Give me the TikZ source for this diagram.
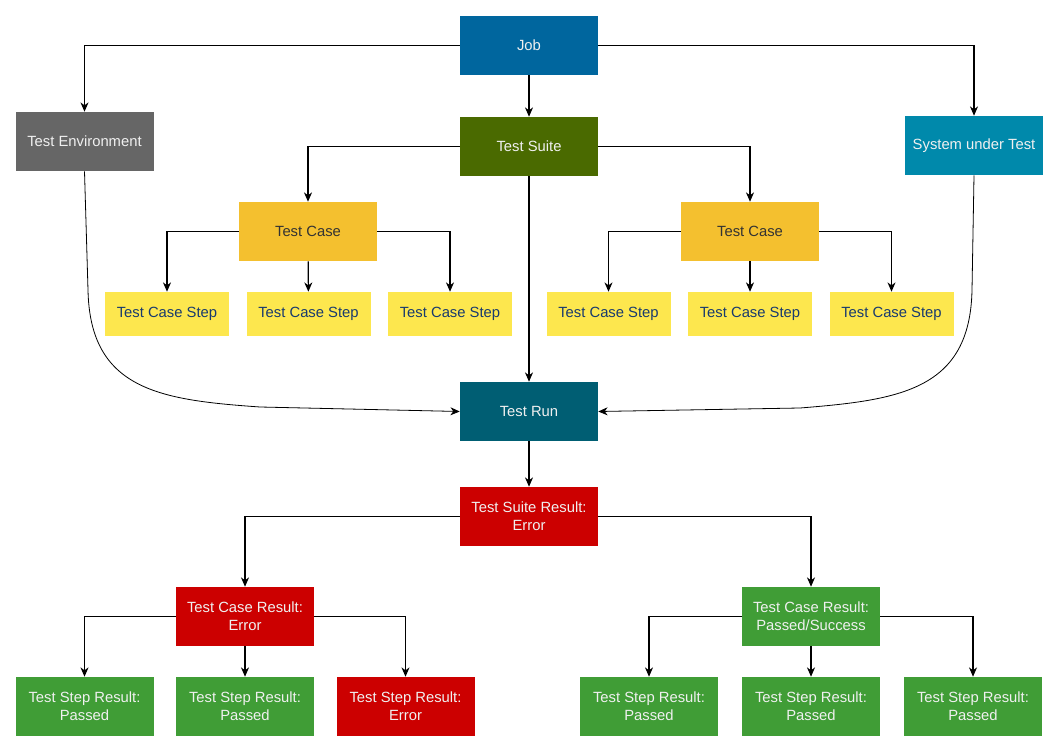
\documentclass[tikz,border=0pt]{standalone}
\usepackage{fontspec}
\setmainfont{Liberation Sans}
\usepackage{tikz}
\usetikzlibrary{arrows.meta, positioning}
\definecolor{jobblue}{RGB}{0, 102, 158}
\definecolor{envgray}{RGB}{102, 102, 102}
\definecolor{suitegreen}{RGB}{74, 106, 0}
\definecolor{sutblue}{RGB}{0, 137, 171}
\definecolor{caseyellow}{RGB}{244, 192, 47}
\definecolor{stepyellow}{RGB}{253, 231, 78}
\definecolor{steptext}{RGB}{24, 58, 110}
\definecolor{runteal}{RGB}{0, 94, 115}
\definecolor{errorred}{RGB}{204, 0, 0}
\definecolor{passgreen}{RGB}{64, 157, 54}
\tikzset{
  font=\fontsize{11.1}{13.5}\selectfont,
  baseblock/.style={
    rectangle, inner sep=0pt,
    minimum width=103.5pt, minimum height=44.25pt,
    align=center, text=white!94!black
  },
  jobblock/.style={baseblock, fill=jobblue},
  envblock/.style={baseblock, fill=envgray},
  suiteblock/.style={baseblock, fill=suitegreen},
  sutblock/.style={baseblock, fill=sutblue},
  caseblock/.style={baseblock, fill=caseyellow, text=black!80},
  stepblock/.style={baseblock, fill=stepyellow, text=steptext,
    minimum width=93pt, minimum height=33pt},
  runblock/.style={baseblock, fill=runteal},
  errorblock/.style={baseblock, fill=errorred},
  passblock/.style={baseblock, fill=passgreen},
  flowline/.style={
    draw=black, -{Stealth[length=7pt, width=6pt, inset=2.2pt]}, line width=0.85pt
  },
  curveline/.style={
    draw=black, -{Stealth[length=7pt, width=6pt, inset=2.2pt]}, line width=0.6pt
  }
}

\begin{document}
\begin{tikzpicture}[x=0.75pt, y=-0.75pt]
  \useasboundingbox (0,0) rectangle (1059,752);

  % top level
  \node[jobblock] (job) at (529,45.5) {Job};
  \node[envblock] (tenv) at (84.5,141.5) {Test Environment};
  \node[suiteblock] (suite) at (529,146.5) {Test Suite};
  \node[sutblock] (sut) at (974,145.5) {System under Test};

  % test cases and steps
  \node[caseblock] (caseL) at (308,231.5) {Test Case};
  \node[caseblock] (caseR) at (750,231.5) {Test Case};
  \foreach \x/\n in {167/stepL1, 308.5/stepL2, 450/stepL3, 608.5/stepR1, 750/stepR2, 891.5/stepR3}
    \node[stepblock] (\n) at (\x,314) {Test Case Step};

  % run and results
  \node[runblock] (run) at (529,411.5) {Test Run};
  \node[errorblock] (suiteres) at (529,516.5) {Test Suite Result:\\Error};
  \node[errorblock] (caseresL) at (245,616.5) {Test Case Result:\\Error};
  \node[passblock] (caseresR) at (811,616.5) {Test Case Result:\\Passed/Success};
  \node[passblock] (stepresL1) at (84.5,706.5) {Test Step Result:\\Passed};
  \node[passblock] (stepresL2) at (245,706.5) {Test Step Result:\\Passed};
  \node[errorblock] (stepresL3) at (405.5,706.5) {Test Step Result:\\Error};
  \node[passblock] (stepresR1) at (649,706.5) {Test Step Result:\\Passed};
  \node[passblock] (stepresR2) at (811,706.5) {Test Step Result:\\Passed};
  \node[passblock] (stepresR3) at (973,706.5) {Test Step Result:\\Passed};

  % connectors
  \draw[flowline] (job.west) -| (tenv.north);
  \draw[flowline] (job.east) -| (sut.north);
  \draw[flowline] (job) -- (suite);
  \draw[flowline] (suite.west) -| (caseL.north);
  \draw[flowline] (suite.east) -| (caseR.north);
  \draw[flowline] (suite) -- (run);
  \draw[flowline] (caseL.west) -| (stepL1.north);
  \draw[flowline] (caseL) -- (stepL2);
  \draw[flowline] (caseL.east) -| (stepL3.north);
  \draw[flowline] (caseR.west) -| (stepR1.north);
  \draw[flowline] (caseR) -- (stepR2);
  \draw[flowline] (caseR.east) -| (stepR3.north);

  \draw[curveline] (tenv.south) -- (88,290) .. controls (90,390) and (160,400) .. (260,407) -- (run.west);
  \draw[curveline] (sut.south) -- (972,290) .. controls (970,390) and (900,400) .. (800,408) -- (run.east);

  \draw[flowline] (run) -- (suiteres);
  \draw[flowline] (suiteres.west) -| (caseresL.north);
  \draw[flowline] (suiteres.east) -| (caseresR.north);
  \draw[flowline] (caseresL.west) -| (stepresL1.north);
  \draw[flowline] (caseresL) -- (stepresL2);
  \draw[flowline] (caseresL.east) -| (stepresL3.north);
  \draw[flowline] (caseresR.west) -| (stepresR1.north);
  \draw[flowline] (caseresR) -- (stepresR2);
  \draw[flowline] (caseresR.east) -| (stepresR3.north);
\end{tikzpicture}
\end{document}
